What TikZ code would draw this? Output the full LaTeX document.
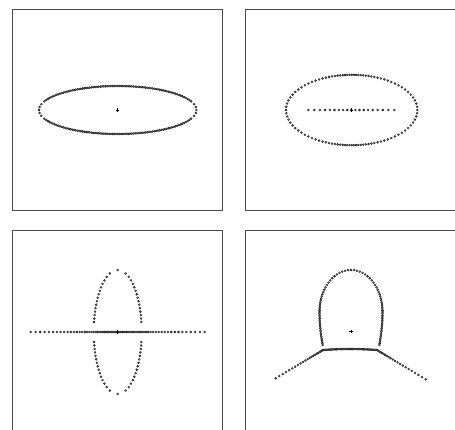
\documentclass[tikz,border=0pt]{standalone}
\begin{document}
\begin{tikzpicture}[x=1pt,y=-1pt,
  quadro/.style={draw=black!70, line width=0.9pt},
  ponto/.style={draw=black!90, fill=black!45, line width=0.4pt},
  cruz/.pic={\draw[line width=0.5pt] (-1.6pt,0) -- (1.6pt,0) (0,-1.6pt) -- (0,1.6pt);}]
  \useasboundingbox (0,0) rectangle (455,429);
  \clip (0,0) rectangle (455,429);

  % Quadros dos quatro instantes.
  \draw[quadro] (12.3,9.3) rectangle (222.7,210.7);
  \draw[quadro] (245.7,9.3) rectangle (470,210.7);
  \draw[quadro] (12.3,230.7) rectangle (222.7,450);
  \draw[quadro] (245.7,230.7) rectangle (470,450);

  % Instante 1: elipse alongada.
  \foreach \j in {-42,...,42} {
    \pgfmathsetmacro{\w}{24*sqrt(max(0,1-(\j/45)*(\j/45)))}
    \path[ponto] ({117.7+78.7*\j/45},{110-\w}) circle (1pt)
      ({117.7+78.7*\j/45},{110+\w}) circle (1pt);
  }
  \foreach \s in {-14,-7,0,7,14} {
    \path[ponto] ({117.7+78.7*cos(\s)},{110+24*sin(\s)}) circle (1pt)
      ({117.7-78.7*cos(\s)},{110+24*sin(\s)}) circle (1pt);
  }
  \pic at (117.7,110) {cruz};

  % Instante 2: elipse e fila central.
  \foreach \i in {0,...,99} {
    \pgfmathsetmacro{\s}{\i*3.6 + 0.235*sin(2*\i*3.6)*57.2958}
    \path[ponto] ({351.7+65.7*cos(\s)},{110+35.2*sin(\s)}) circle (1pt);
  }
  \foreach \j in {-9,...,9} {
    \pgfmathsetmacro{\d}{43*(0.85*\j/9 + 0.15*(\j/9)*(\j/9)*(\j/9))}
    \path[ponto] ({351.3+\d},110) circle (1pt);
  }
  \pic at (351.5,110) {cruz};

  % Instante 3: fila horizontal e dois arcos.
  \foreach \j in {-35,...,35} {
    \pgfmathsetmacro{\d}{87*(0.5*\j/35 + 0.5*(\j/35)*(\j/35)*(\j/35))}
    \path[ponto] ({117.7+\d},332) circle (1pt);
  }
  \foreach \k in {0,...,15} {
    \pgfmathsetmacro{\dy}{10+\k*52/15}
    \pgfmathsetmacro{\w}{24*sqrt(max(0,1-(\dy/62)*(\dy/62)))}
    \path[ponto] ({117.7-\w},{332-\dy}) circle (1pt)
      ({117.7+\w},{332-\dy}) circle (1pt)
      ({117.7-\w},{332+\dy}) circle (1pt)
      ({117.7+\w},{332+\dy}) circle (1pt);
  }
  \pic at (117.7,332) {cruz};

  % Instante 4: laço sobre a curva dobrada.
  \foreach \i in {0,...,48} {
    \pgfmathsetmacro{\s}{\i*3.75 - 0.225*sin(2*\i*3.75)*57.2958}
    \path[ponto] ({351+31.5*cos(\s)},{312-42*sin(\s)}) circle (1pt);
  }
  \foreach \k in {1,...,20} {
    \pgfmathsetmacro{\w}{31.5-3.2*(\k/20)*(\k/20)}
    \path[ponto] ({351-\w},{312+\k*33/20}) circle (1pt)
      ({351+\w},{312+\k*33/20}) circle (1pt);
  }
  \foreach \i in {0,...,44} {
    \path[ponto] ({323+\i*54/44},{349+((\i-22)/22)*((\i-22)/22)}) circle (1pt);
  }
  \foreach \i in {1,...,22} {
    \pgfmathsetmacro{\f}{0.3*\i/22 + 0.7*(\i/22)*(\i/22)}
    \path[ponto] ({323-47.3*\f},{350+28.3*\f}) circle (1pt)
      ({377+48.7*\f},{350+29.3*\f}) circle (1pt);
  }
  \pic at (351,331.7) {cruz};
\end{tikzpicture}
\end{document}
